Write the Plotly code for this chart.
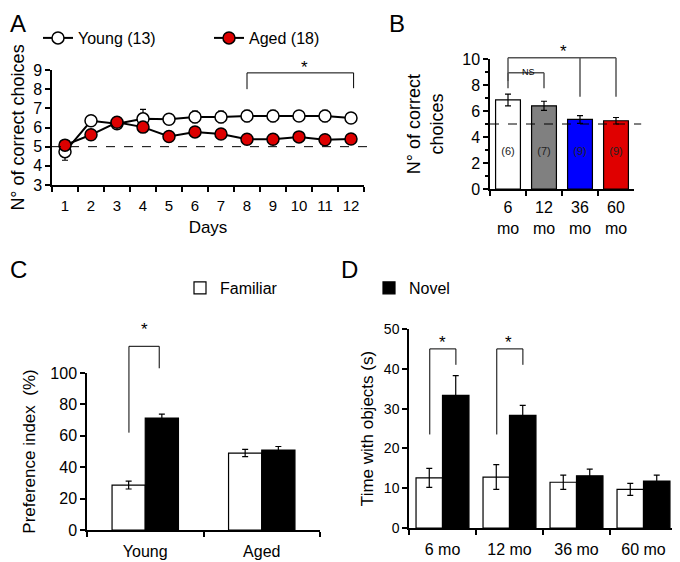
import plotly.graph_objects as go

# Panel A - daily performance
days = [str(d) for d in range(1, 13)]
young_mean = [4.74, 6.35, 6.2, 6.45, 6.43, 6.55, 6.55, 6.6, 6.6, 6.6, 6.6, 6.5]
young_err = [0.45, 0.1, 0.25, 0.5, 0.25, 0.3, 0.3, 0.3, 0.3, 0.15, 0.3, 0.15]
aged_mean = [5.08, 5.62, 6.27, 6.02, 5.53, 5.77, 5.66, 5.39, 5.39, 5.51, 5.36, 5.4]
aged_err = [0.2, 0.15, 0.2, 0.25, 0.25, 0.25, 0.2, 0.15, 0.15, 0.15, 0.15, 0.15]

# Panel B - correct choices by age
ages_b = ["6<br>mo", "12<br>mo", "36<br>mo", "60<br>mo"]
choices_mean = [6.85, 6.4, 5.35, 5.25]
choices_err = [0.45, 0.35, 0.3, 0.25]
group_n = ["(6)", "(7)", "(9)", "(9)"]
bar_colors = ["#ffffff", "#808080", "#0000ff", "#e00000"]

# Panel C - preference index
groups_c = ["Young", "Aged"]
pref_familiar = [28.6, 49.0]
pref_familiar_err = [2.5, 2.3]
pref_novel = [71.3, 50.9]
pref_novel_err = [2.5, 2.3]

# Panel D - time with objects
ages_d = ["6 mo", "12 mo", "36 mo", "60 mo"]
time_familiar = [12.6, 12.8, 11.5, 9.7]
time_familiar_err = [2.4, 3.1, 1.8, 1.5]
time_novel = [33.3, 28.3, 13.1, 11.8]
time_novel_err = [5.0, 2.5, 1.7, 1.5]

FONT = "Liberation Sans, Arial, sans-serif"
W, H = 680, 562
PAGE_PAD = 8  # default body margin of the html page

Y_RANGES = {"y": (3, 9), "y2": (0, 10), "y3": (0, 100), "y4": (0, 50)}


def px_x(p):
    return (p - PAGE_PAD) / W


def px_y(p):
    return 1 - (p - PAGE_PAD) / H


def frac(yax, v):
    lo, hi = Y_RANGES[yax]
    return (v - lo) / (hi - lo)


fig = go.Figure()

# ---- A ----
fig.add_trace(go.Scatter(
    x=days, y=young_mean, name="Young (13)", mode="lines+markers",
    line=dict(color="black", width=2),
    marker=dict(size=12, color="white", line=dict(color="black", width=1.5)),
    error_y=dict(type="data", array=young_err, color="black", thickness=1.2, width=3),
    xaxis="x", yaxis="y", legend="legend"))
fig.add_trace(go.Scatter(
    x=days, y=aged_mean, name="Aged (18)", mode="lines+markers",
    line=dict(color="black", width=2),
    marker=dict(size=12, color="#dd0000", line=dict(color="black", width=1.5)),
    error_y=dict(type="data", array=aged_err, color="black", thickness=1.2, width=3),
    xaxis="x", yaxis="y", legend="legend"))

# ---- B ----
fig.add_trace(go.Bar(
    x=ages_b, y=choices_mean, width=0.69, showlegend=False,
    marker=dict(color=bar_colors, line=dict(color="black", width=1.2)),
    error_y=dict(type="data", array=choices_err, color="black", thickness=1.2, width=3),
    xaxis="x2", yaxis="y2"))
fig.add_trace(go.Scatter(
    x=ages_b, y=[2.85] * len(ages_b), text=group_n, mode="text", showlegend=False,
    textfont=dict(size=11, color="#222222"), xaxis="x2", yaxis="y2", hoverinfo="skip"))

# ---- C ----
fig.add_trace(go.Bar(
    x=groups_c, y=pref_familiar, name="Familiar", width=0.285, offset=-0.285,
    marker=dict(color="white", line=dict(color="black", width=1.2)),
    error_y=dict(type="data", array=pref_familiar_err, color="black", thickness=1.2, width=3),
    xaxis="x3", yaxis="y3", legend="legend2"))
fig.add_trace(go.Bar(
    x=groups_c, y=pref_novel, name="Novel", width=0.285, offset=0,
    marker=dict(color="black", line=dict(color="black", width=1.2)),
    error_y=dict(type="data", array=pref_novel_err, color="black", thickness=1.2, width=3),
    xaxis="x3", yaxis="y3", legend="legend2"))

# ---- D ----
fig.add_trace(go.Bar(
    x=ages_d, y=time_familiar, name="Familiar", width=0.395, offset=-0.395, showlegend=False,
    marker=dict(color="white", line=dict(color="black", width=1.2)),
    error_y=dict(type="data", array=time_familiar_err, color="black", thickness=1.2, width=3),
    xaxis="x4", yaxis="y4"))
fig.add_trace(go.Bar(
    x=ages_d, y=time_novel, name="Novel", width=0.395, offset=0, showlegend=False,
    marker=dict(color="black", line=dict(color="black", width=1.2)),
    error_y=dict(type="data", array=time_novel_err, color="black", thickness=1.2, width=3),
    xaxis="x4", yaxis="y4"))

axis_common = dict(showline=True, linecolor="black", linewidth=1.5, ticks="outside",
                   ticklen=5, tickwidth=1.5, tickcolor="black", showgrid=False,
                   zeroline=False, fixedrange=True, automargin=False, tickangle=0)

fig.update_layout(
    width=W, height=H, margin=dict(l=0, r=0, t=0, b=0, autoexpand=False),
    paper_bgcolor="white", plot_bgcolor="white",
    font=dict(family=FONT, color="black", size=15),
    barmode="overlay",
    xaxis=dict(domain=[px_x(52), px_x(364)], anchor="y", type="category",
               tickson="boundaries", range=[-0.5, 11.5], tickfont=dict(size=15),
               ticklabelstandoff=6,
               title=dict(text="Days", font=dict(size=17), standoff=8), **axis_common),
    yaxis=dict(domain=[px_y(185), px_y(70)], anchor="x", range=list(Y_RANGES["y"]), dtick=1,
               tickfont=dict(size=16),
               title=dict(text="N° of correct choices", font=dict(size=18), standoff=7),
               **axis_common),
    xaxis2=dict(domain=[px_x(490), px_x(634)], anchor="y2", type="category",
                tickson="boundaries", range=[-0.5, 3.5], tickfont=dict(size=16),
                ticklabelstandoff=3, **axis_common),
    yaxis2=dict(domain=[px_y(189), px_y(59)], anchor="x2", range=list(Y_RANGES["y2"]), dtick=2,
                tickfont=dict(size=16),
                minor=dict(ticks="outside", dtick=1, ticklen=3, tickcolor="black"),
                title=dict(text="N° of correct<br>choices", font=dict(size=18), standoff=14),
                **axis_common),
    xaxis3=dict(domain=[px_x(87), px_x(320)], anchor="y3", type="category",
                tickson="boundaries", range=[-0.5, 1.5], tickfont=dict(size=16),
                ticklabelstandoff=6, **axis_common),
    yaxis3=dict(domain=[px_y(530), px_y(373)], anchor="x3", range=list(Y_RANGES["y3"]), dtick=20,
                tickfont=dict(size=16),
                title=dict(text="Preference index  (%)", font=dict(size=17), standoff=10),
                **axis_common),
    xaxis4=dict(domain=[px_x(409), px_x(677)], anchor="y4", type="category",
                tickson="boundaries", range=[-0.5, 3.5], tickfont=dict(size=16),
                ticklabelstandoff=6, **axis_common),
    yaxis4=dict(domain=[px_y(528), px_y(329)], anchor="x4", range=list(Y_RANGES["y4"]), dtick=10,
                tickfont=dict(size=14),
                title=dict(text="Time with objects (s)", font=dict(size=17), standoff=6),
                **axis_common),
    legend=dict(orientation="h", x=px_x(38), y=px_y(38), xanchor="left", yanchor="middle",
                entrywidth=126, entrywidthmode="pixels", font=dict(size=16),
                bgcolor="rgba(0,0,0,0)"),
    legend2=dict(orientation="h", x=px_x(180), y=px_y(288), xanchor="left", yanchor="middle",
                 entrywidth=144, entrywidthmode="pixels", font=dict(size=16),
                 bgcolor="rgba(0,0,0,0)"),
)

BR_GRAY = "#555555"


def bracket(n, xl, xrt, top, yl, yrt, color="black", width=1):
    xr = "x" if n == "" else "x" + n
    yax = "y" + n
    yr = yax + " domain"
    t, a, b = frac(yax, top), frac(yax, yl), frac(yax, yrt)
    ln = dict(color=color, width=width)
    return [
        dict(type="line", xref=xr, yref=yr, x0=xl, x1=xl, y0=a, y1=t, line=ln),
        dict(type="line", xref=xr, yref=yr, x0=xl, x1=xrt, y0=t, y1=t, line=ln),
        dict(type="line", xref=xr, yref=yr, x0=xrt, x1=xrt, y0=t, y1=b, line=ln),
    ]


shapes = []
# dashed chance lines
shapes.append(dict(type="line", xref="x domain", yref="y", x0=0, x1=1.02, y0=5, y1=5,
                   line=dict(color="black", width=1, dash="dash")))
shapes.append(dict(type="line", xref="x2 domain", yref="y2", x0=0, x1=1.05, y0=5, y1=5,
                   line=dict(color="black", width=1, dash="dash")))
# A: days 8-12
shapes += bracket("", 7, 11.1, 8.85, 8.0, 8.05)
# B: NS and * brackets
shapes += bracket("2", 0, 1, 8.95, 7.75, 7.75, color=BR_GRAY, width=1.5)
shapes += bracket("2", 0, 3, 10.1, 8.3, 7.1, color=BR_GRAY, width=1.5)
shapes.append(dict(type="line", xref="x2", yref="y2 domain", x0=2, x1=2,
                   y0=frac("y2", 10.1), y1=frac("y2", 7.1), line=dict(color=BR_GRAY, width=1.5)))
# C
shapes += bracket("3", -0.14, 0.12, 117, 62, 103)
# D
shapes += bracket("4", -0.19, 0.2, 45, 23.5, 41)
shapes += bracket("4", 0.81, 1.2, 45, 23.5, 41)
fig.update_layout(shapes=shapes)


def star(n, x, v, text="*", size=17):
    xr = "x" if n == "" else "x" + n
    yax = "y" + n
    return dict(text=text, x=x, y=frac(yax, v), xref=xr, yref=yax + " domain",
                font=dict(size=size, color="black"))


annotations = [
    dict(text="A", x=0, y=1, xanchor="left", yanchor="top", font=dict(size=24)),
    dict(text="B", x=px_x(387), y=1, xanchor="left", yanchor="top", font=dict(size=24)),
    dict(text="C", x=0, y=px_y(270), xanchor="left", yanchor="middle", font=dict(size=24)),
    dict(text="D", x=px_x(339), y=px_y(270), xanchor="left", yanchor="middle", font=dict(size=24)),
    star("", 9.2, 9.73),
    star("2", 1.53, 11.5),
    star("2", 0.56, 9.54, text="NS", size=9),
    star("3", -0.01, 135),
    star("4", 0.007, 49.5),
    star("4", 0.99, 49.5),
]
for a in annotations:
    a.setdefault("xref", "paper")
    a.setdefault("yref", "paper")
    a["showarrow"] = False
fig.update_layout(annotations=annotations)

fig.write_html("out.html")
